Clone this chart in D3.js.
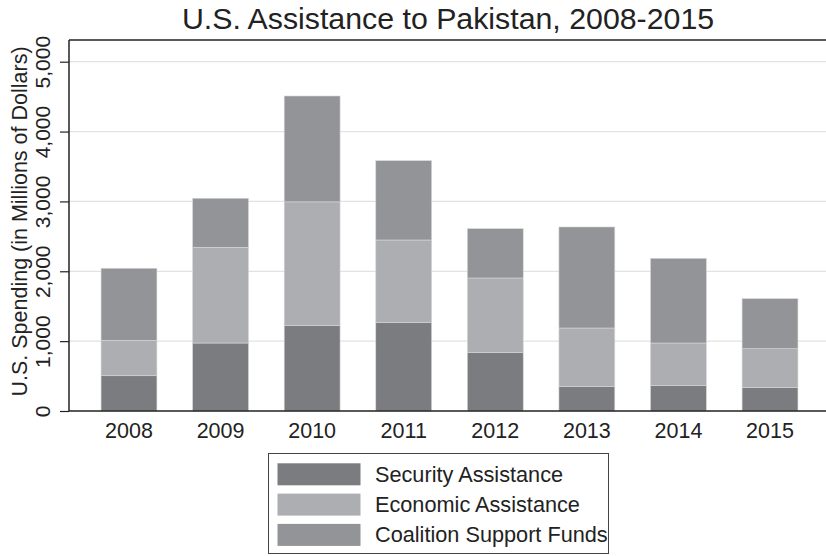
<!DOCTYPE html>
<html><head><meta charset="utf-8">
<script src="https://cdn.jsdelivr.net/npm/d3@7"></script>
<style>body{margin:0;background:#fff}svg{display:block;font-family:"Liberation Sans",Arial,sans-serif}</style>
</head><body><svg id="c" width="826" height="556"></svg>
<script>
const years = ["2008","2009","2010","2011","2012","2013","2014","2015"];
const security = [505, 973, 1227, 1269, 840, 348, 363, 334];
const economic = [507, 1370, 1767, 1179, 1064, 840, 610, 558];
const coalition = [1031, 702, 1515, 1135, 706, 1446, 1212, 716];
const seriesNames = ["Security Assistance","Economic Assistance","Coalition Support Funds"];
const seriesColors = ["#7b7c80","#adaeb2","#939498"];
const yTicks = [0,1000,2000,3000,4000,5000];

const svg = d3.select("#c");
const L = 69, R = 830, T = 40, B = 411;
const x = d3.scaleBand().domain(years).range([L, R]).paddingInner(0.39).paddingOuter(0.35);
const y = d3.scaleLinear().domain([0, 5000]).range([B, 61.7]);

// grid
svg.append("g").selectAll("line").data(yTicks.filter(d=>d>0)).join("line")
  .attr("x1", L).attr("x2", R).attr("y1", d=>y(d)).attr("y2", d=>y(d))
  .attr("stroke", "#e2e2e2").attr("stroke-width", 1.2);

// stacked data
const table = years.map((yr,i)=>({year:yr, s0:security[i], s1:economic[i], s2:coalition[i]}));
const stack = d3.stack().keys(["s0","s1","s2"])(table);
svg.append("g").selectAll("g").data(stack).join("g")
  .attr("fill", (d,i)=>seriesColors[i])
  .selectAll("rect").data(d=>d).join("rect")
  .attr("x", d=>x(d.data.year)).attr("width", x.bandwidth())
  .attr("y", d=>y(d[1])).attr("height", d=>y(d[0])-y(d[1]))
  .attr("stroke", "#d6d6d8").attr("stroke-width", 0.6);

// frame top
svg.append("line").attr("x1", L).attr("x2", R).attr("y1", T).attr("y2", T).attr("stroke","#222").attr("stroke-width",1.5);

// y axis
const ya = svg.append("g").attr("transform", `translate(${L},0)`)
  .call(d3.axisLeft(y).tickValues(yTicks).tickSize(9).tickFormat(d3.format(",")));
ya.select(".domain").remove();
ya.append("line").attr("x1",0).attr("x2",0).attr("y1",T).attr("y2",B).attr("stroke","#222").attr("stroke-width",1.5);
ya.selectAll(".tick line").attr("stroke","#222").attr("stroke-width",1.2);
ya.selectAll(".tick text").attr("font-size", 21).attr("fill","#222")
  .attr("x",0).attr("y",0).attr("dy","0").attr("text-anchor","middle")
  .attr("transform", "translate(-19,0) rotate(-90)");

// x axis
const xa = svg.append("g").attr("transform", `translate(0,${B})`)
  .call(d3.axisBottom(x).tickSize(0).tickPadding(11.4));
xa.select(".domain").remove();
xa.append("line").attr("x1",L).attr("x2",R).attr("y1",0).attr("y2",0).attr("stroke","#222").attr("stroke-width",1.5);
xa.selectAll(".tick text").attr("font-size",21.5).attr("fill","#222");

// axis title
svg.append("text").attr("transform", `translate(27,${(T+B)/2-4}) rotate(-90)`)
  .attr("text-anchor","middle").attr("font-size",21.5).attr("fill","#222")
  .text("U.S. Spending (in Millions of Dollars)");

// title
svg.append("text").attr("x", 448).attr("y", 28.5).attr("text-anchor","middle")
  .attr("font-size",30.3).attr("fill","#222").text("U.S. Assistance to Pakistan, 2008-2015");

// legend
const lg = svg.append("g");
lg.append("rect").attr("x",268.5).attr("y",453.5).attr("width",340).attr("height",100)
  .attr("fill","none").attr("stroke","#444").attr("stroke-width",1);
seriesNames.forEach((n,i)=>{
  const yy = 463.3 + i*30.3;
  lg.append("rect").attr("x",277.5).attr("y",yy).attr("width",83).attr("height",22).attr("fill",seriesColors[i]);
  lg.append("text").attr("x",375).attr("y",yy+18.4).attr("font-size",21.7).attr("fill","#222").text(n);
});
</script></body></html>
